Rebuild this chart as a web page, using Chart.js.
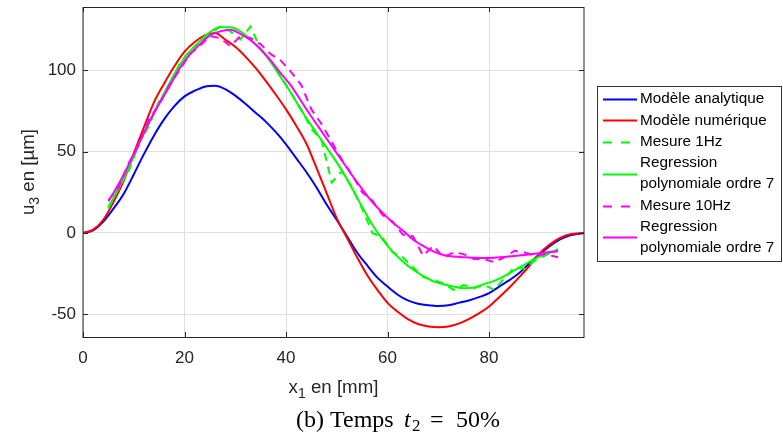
<!DOCTYPE html>
<html>
<head>
<meta charset="utf-8">
<script src="https://cdn.jsdelivr.net/npm/chart.js@4/dist/chart.umd.min.js"></script>
<style>
  html, body { margin: 0; padding: 0; background: #ffffff; }
  #wrap { position: relative; width: 783px; height: 439px; }
  canvas { display: block; }
</style>
</head>
<body>
<div id="wrap"><canvas id="c" width="783" height="439"></canvas></div>
<script>
// ---- Data ----
const xModel = [0, 2, 4, 6, 8, 10, 12, 14, 16, 18, 20, 22, 24, 26, 28, 30, 32, 34, 36, 38,
  40, 42, 44, 46, 48, 50, 52, 54, 56, 58, 60, 62, 64, 66, 68, 70, 72, 74, 76, 78,
  80, 82, 84, 86, 88, 90, 92, 94, 96, 98.7];
const yAnalytique = [0, 1.6, 7, 15, 24, 36, 48.5, 60, 70, 78, 84, 87.5, 90, 90.5, 88.5, 84.5, 79.5, 74, 68.5, 62,
  54.5, 46, 37.5, 28, 17.5, 8, -2, -12, -20, -27.5, -33, -38, -41.5, -43.5, -44.5, -45, -44.5, -43, -41.5, -39.5,
  -37, -33, -29, -24.5, -18.5, -13, -8, -4, -1.5, 0];
const yNumerique = [0, 2, 8, 19, 32, 49, 65, 80.5, 92, 102.5, 111.5, 117.5, 121.5, 123, 119, 114.5, 108.5, 101.5, 93.5, 85,
  76, 66, 55, 40, 24.5, 9, -3, -15, -26, -35, -43, -48.5, -53, -56, -57.5, -58, -57.5, -55.8, -53, -49.5,
  -45.2, -39.5, -33.5, -27, -20, -12.5, -7, -3, -0.8, 0];

const xMesure = [5, 7, 9, 11, 13, 15, 17, 19, 21, 23, 25, 27, 29, 31, 33, 35, 37, 39, 41, 43,
  45, 47, 49, 51, 53, 55, 57, 59, 61, 63, 65, 67, 69, 71, 73, 75, 77, 79, 81, 83,
  85, 87, 89, 91, 93.6];
const yMesure1Hz = [15, 28, 38, 55, 66, 81, 90, 104, 112, 117, 122, 127, 124, 119, 127, 113, 106, 96, 86, 76,
  64, 57, 31, 38, 28, 15, 0, -3, -12, -15, -21, -27, -29, -31, -35, -32, -34, -32, -35, -28,
  -21, -22, -17, -14, -10];
const yRegression1Hz = [16, 27, 40, 54.5, 67.5, 80, 92, 103, 111.5, 118, 123.5, 126.5, 126.5, 124, 119, 113, 105, 95.5, 86, 75.5,
  66, 57, 48, 38.5, 27.5, 16, 5, -4, -11.5, -17.5, -22.5, -26.5, -29.8, -31.5, -33, -34, -33.5, -31.5, -29.5, -26.5,
  -23, -19.5, -16, -13, -10.5];
const yMesure10Hz = [20, 28, 43, 54, 70, 79, 91, 100, 110, 115, 121, 120, 115, 121, 120, 116, 110, 106, 99, 91,
  76, 67, 56, 45, 36, 25, 20, 11, 7, -1, -2, -14, -8, -15, -12, -13, -16, -16, -18, -15,
  -11, -12, -14, -13, -15];
const yRegression10Hz = [19.5, 30, 42, 55, 68, 79.5, 90, 101, 109.5, 116, 121.5, 124, 125, 122.5, 118.5, 113, 106, 98, 90.5, 81,
  71.5, 62.5, 53.5, 44.5, 35.5, 27, 19, 12.5, 6.5, 1.5, -4, -8, -11.3, -13.5, -14.5, -15, -15.3, -15.4, -15.2, -14.8,
  -14.2, -13.5, -12.8, -12, -11.3];

const xTicks = [0, 20, 40, 60, 80];
const yTicks = [-50, 0, 50, 100];
const legendLabels = ['Modèle analytique', 'Modèle numérique', 'Mesure 1Hz',
  'Regression\npolynomiale ordre 7', 'Mesure 10Hz', 'Regression\npolynomiale ordre 7'];

const zip = (xs, ys) => xs.map((x, i) => ({ x: x, y: ys[i] }));

const SANS = '"Liberation Sans", Arial, sans-serif';
const SERIF = '"Liberation Serif", "Times New Roman", serif';
const AXIS_COLOR = '#262626';

function mk(label, xs, ys, color, dashed, order, smooth) {
  return {
    label: label,
    data: zip(xs, ys),
    borderColor: color,
    backgroundColor: color,
    borderWidth: 2,
    borderDash: dashed ? [8, 6] : [],
    pointRadius: 0,
    fill: false,
    order: order,
    cubicInterpolationMode: smooth ? 'monotone' : 'default',
    tension: 0
  };
}

const datasets = [
  mk(legendLabels[0], xModel, yAnalytique, '#0000ff', false, 6, true),
  mk(legendLabels[1], xModel, yNumerique, '#ff0000', false, 5, true),
  mk(legendLabels[2], xMesure, yMesure1Hz, '#00ff00', true, 4, false),
  mk(legendLabels[3], xMesure, yRegression1Hz, '#00ff00', false, 3, true),
  mk(legendLabels[4], xMesure, yMesure10Hz, '#ff00ff', true, 2, false),
  mk(legendLabels[5], xMesure, yRegression10Hz, '#ff00ff', false, 1, true)
];

const noPad = s => { s.paddingTop = 0; s.paddingBottom = 0; s.paddingLeft = 0; s.paddingRight = 0; };

const decor = {
  id: 'decor',
  afterDraw(chart) {
    const ctx = chart.ctx;
    const a = chart.chartArea;
    const xs = chart.scales.x, ys = chart.scales.y;
    ctx.save();

    // ticks inside the box on all four sides
    ctx.strokeStyle = AXIS_COLOR;
    ctx.lineWidth = 1;
    ctx.beginPath();
    xTicks.forEach(v => {
      const px = Math.round(xs.getPixelForValue(v)) + 0.5;
      ctx.moveTo(px, a.bottom); ctx.lineTo(px, a.bottom - 5);
      ctx.moveTo(px, a.top); ctx.lineTo(px, a.top + 5);
    });
    yTicks.forEach(v => {
      const py = Math.round(ys.getPixelForValue(v)) + 0.5;
      ctx.moveTo(a.left, py); ctx.lineTo(a.left + 5, py);
      ctx.moveTo(a.right, py); ctx.lineTo(a.right - 5, py);
    });
    ctx.stroke();

    // axes box
    ctx.strokeStyle = AXIS_COLOR;
    ctx.lineWidth = 1;
    ctx.strokeRect(a.left, a.top + 0.5, a.right - a.left, a.bottom - a.top);

    // x axis title: x_1 en [mm]
    ctx.fillStyle = AXIS_COLOR;
    ctx.textBaseline = 'alphabetic';
    const big = '18.7px ' + SANS, small = '14px ' + SANS;
    ctx.font = big; const wx = ctx.measureText('x').width;
    const wr = ctx.measureText(' en [mm]').width;
    ctx.font = small; const w1 = ctx.measureText('1').width;
    const total = wx + w1 + wr;
    let sx = (a.left + a.right) / 2 - total / 2;
    const by = 393;
    ctx.textAlign = 'left';
    ctx.font = big; ctx.fillText('x', sx, by);
    ctx.font = small; ctx.fillText('1', sx + wx, by + 5);
    ctx.font = big; ctx.fillText(' en [mm]', sx + wx + w1, by);

    // y axis title: u_3 en [µm]
    ctx.save();
    ctx.translate(33.5, (a.top + a.bottom) / 2);
    ctx.rotate(-Math.PI / 2);
    ctx.font = big; const wu = ctx.measureText('u').width;
    const wr2 = ctx.measureText(' en [µm]').width;
    ctx.font = small; const w3 = ctx.measureText('3').width;
    let sy = -(wu + w3 + wr2) / 2;
    ctx.font = big; ctx.fillText('u', sy, 0);
    ctx.font = small; ctx.fillText('3', sy + wu, 5);
    ctx.font = big; ctx.fillText(' en [µm]', sy + wu + w3, 0);
    ctx.restore();

    // legend
    ctx.fillStyle = '#ffffff';
    ctx.fillRect(597.5, 86.5, 184, 175);
    ctx.strokeStyle = '#333333';
    ctx.lineWidth = 1;
    ctx.strokeRect(597.5, 86.5, 184, 175);
    ctx.font = '15.3px ' + SANS;
    ctx.textBaseline = 'middle';
    ctx.fillStyle = '#000000';
    let row = 0;
    const rowY = i => 99 + i * 21.3;
    chart.data.datasets.forEach(ds => {
      const lines = ds.label.split('\n');
      const y0 = rowY(row), y1 = rowY(row + lines.length - 1);
      const ly = Math.round((y0 + y1) / 2) + 0.5;
      ctx.strokeStyle = ds.borderColor;
      ctx.lineWidth = 2;
      ctx.setLineDash(ds.borderDash && ds.borderDash.length ? [9, 9] : []);
      ctx.beginPath(); ctx.moveTo(603, ly); ctx.lineTo(637, ly); ctx.stroke();
      ctx.setLineDash([]);
      lines.forEach((t, k) => ctx.fillText(t, 640, rowY(row + k)));
      row += lines.length;
    });

    // caption (b) Temps t_2 = 50%
    ctx.fillStyle = '#000000';
    ctx.textBaseline = 'alphabetic';
    ctx.font = '24px ' + SERIF;
    ctx.fillText('(b)', 296, 427);
    ctx.fillText('Temps', 330, 427);
    ctx.font = 'italic 24px ' + SERIF;
    ctx.fillText('t', 404, 427);
    ctx.font = '17px ' + SERIF;
    ctx.fillText('2', 412, 431);
    ctx.font = '24px ' + SERIF;
    ctx.fillText('=', 430, 427);
    ctx.fillText('50%', 456, 427);
    ctx.restore();
  }
};

new Chart(document.getElementById('c'), {
  type: 'line',
  data: { datasets: datasets },
  options: {
    responsive: false,
    animation: false,
    devicePixelRatio: 1,
    layout: { padding: { left: 0, right: 199, top: 7, bottom: 0 } },
    plugins: { legend: { display: false }, tooltip: { enabled: false } },
    scales: {
      x: {
        type: 'linear', min: 0, max: 98.7,
        afterBuildTicks: s => { s.ticks = xTicks.map(v => ({ value: v })); },
        afterFit: s => { s.height = 102; noPad(s); },
        grid: { color: '#e0e0e0', drawTicks: false, lineWidth: 1 },
        border: { display: false },
        ticks: { font: { family: SANS, size: 17 }, color: AXIS_COLOR, padding: 11, maxRotation: 0, autoSkip: false }
      },
      y: {
        type: 'linear', min: -64, max: 139,
        afterBuildTicks: s => { s.ticks = yTicks.map(v => ({ value: v })); },
        afterFit: s => { s.width = 83; noPad(s); },
        grid: { color: '#e0e0e0', drawTicks: false, lineWidth: 1 },
        border: { display: false },
        ticks: { font: { family: SANS, size: 17 }, color: AXIS_COLOR, padding: 7, autoSkip: false }
      }
    }
  },
  plugins: [decor]
});
</script>
</body>
</html>
